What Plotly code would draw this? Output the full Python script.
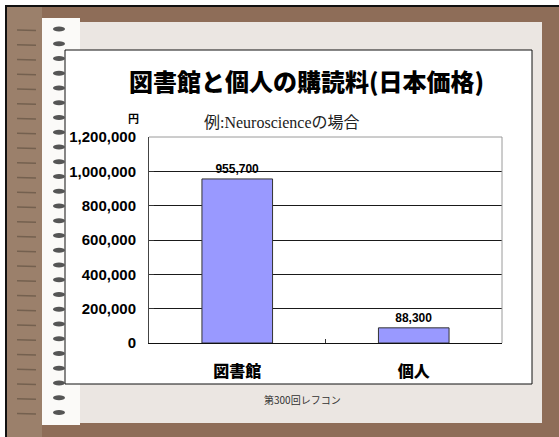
import plotly.graph_objects as go

# ---- data ----
categories = ["図書館", "個人"]
prices = [955700, 88300]
title_text = "図書館と個人の購読料(日本価格)"
subtitle_text = "例:Neuroscienceの場合"
unit_text = "円"
footer_text = "第300回レフコン"
y_ticks = [0, 200000, 400000, 600000, 800000, 1000000, 1200000]

# ---- geometry helpers (pixel -> paper) ----
W, H = 559, 437
L, R, T, B = 149, 502, 137, 343


def px(x):
    return (x - L) / (R - L)


def py(y):
    return (B - y) / (B - T)


def rect(x0, y0, x1, y1, fill, line=None, lw=0, layer="below", kind="rect"):
    d = dict(type=kind, xref="paper", yref="paper",
             x0=px(x0), x1=px(x1), y0=py(y1), y1=py(y0),
             fillcolor=fill, layer=layer, line=dict(width=lw, color=line or fill))
    return d


shapes = []
# outer brown frame with black border
shapes.append(rect(6, 6, 620, 500, "#8e6d58", "#111111", 2))
# textured lighter band on the left
shapes.append(rect(7, 7, 42, 437, "#9b806b"))
# light grey slide panel
shapes.append(rect(80, 22, 542, 423, "#ebe6e2"))
# white spiral strip
shapes.append(rect(42, 18, 80, 425, "#fbfaf8"))
# white chart box
shapes.append(rect(65, 50, 532, 384, "#ffffff", "#111111", 1))
# spiral dots and dashes
for i in range(27):
    c = 29 + i * 14.75
    shapes.append(rect(53, c - 2.5, 65, c + 2.5, "#555555", kind="circle"))
    shapes.append(dict(type="line", xref="paper", yref="paper",
                       x0=px(17), x1=px(36), y0=py(c + 1), y1=py(c + 1.5),
                       layer="below", line=dict(color="#74604f", width=1.5)))
# grey top / right plot border
shapes.append(dict(type="path", xref="paper", yref="paper",
                   path="M 0,1 L 1,1 L 1,0", layer="above",
                   line=dict(color="#9a9a9a", width=1)))

fig = go.Figure(go.Bar(
    x=categories, y=prices, width=0.4,
    marker=dict(color="#9999ff", line=dict(color="#333333", width=1)),
    texttemplate="%{y:,d}", textposition="outside",
    textfont=dict(family="Liberation Sans", size=12, color="#000000", weight="bold"),
    cliponaxis=False, hoverinfo="skip",
))

annotations = [
    dict(text=title_text, x=px(306), y=py(81), xref="paper", yref="paper",
         showarrow=False, xanchor="center", yanchor="middle",
         font=dict(family="Noto Sans CJK JP", size=24, color="#000000", weight=900)),
    dict(text=subtitle_text, x=px(282), y=py(122), xref="paper", yref="paper",
         showarrow=False, xanchor="center", yanchor="middle",
         font=dict(family="Liberation Serif, Noto Sans CJK JP, serif", size=16, color="#222222")),
    dict(text=unit_text, x=px(133), y=py(118), xref="paper", yref="paper",
         showarrow=False, xanchor="center", yanchor="middle",
         font=dict(family="Noto Sans CJK JP", size=11, color="#000000", weight="bold")),
    dict(text=footer_text, x=px(302), y=py(399), xref="paper", yref="paper",
         showarrow=False, xanchor="center", yanchor="middle",
         font=dict(family="Noto Sans CJK JP", size=10, color="#333333")),
]

fig.update_layout(
    width=W, height=H,
    margin=dict(l=L, r=W - R, t=T, b=H - B, pad=0),
    paper_bgcolor="#ffffff", plot_bgcolor="rgba(0,0,0,0)",
    shapes=shapes, annotations=annotations,
    showlegend=False, bargap=0.6,
    xaxis=dict(showline=True, linecolor="#111111", linewidth=1,
               ticks="inside", tickson="boundaries", ticklen=4, tickcolor="#333333",
               showgrid=False, zeroline=False, ticklabelstandoff=14,
               tickfont=dict(family="Noto Sans CJK JP", size=16, color="#000000", weight=900)),
    yaxis=dict(range=[0, 1200000], tickvals=y_ticks, tickformat=",d",
               showline=True, linecolor="#444444", linewidth=1,
               ticks="inside", ticklen=5, tickcolor="#333333",
               showgrid=True, gridcolor="#1a1a1a", gridwidth=1, zeroline=False,
               ticklabelstandoff=9,
               tickfont=dict(family="Liberation Sans", size=15, color="#000000", weight="bold")),
)

fig.write_html("out.html")
